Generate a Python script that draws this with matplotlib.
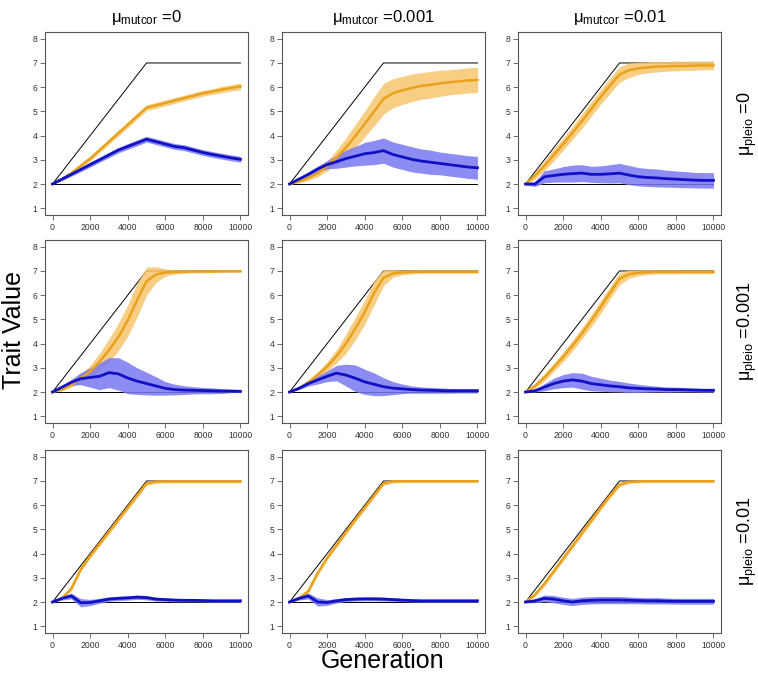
import numpy as np
import matplotlib
matplotlib.use("Agg")
import matplotlib.pyplot as plt

plt.rcParams['font.family'] = ['Liberation Sans', 'DejaVu Sans']
plt.rcParams['mathtext.fontset'] = 'custom'
plt.rcParams['mathtext.rm'] = 'Liberation Sans'
plt.rcParams['mathtext.it'] = 'Liberation Sans'

# generations sampled along each run
gen = [0, 500, 1000, 1500, 2000, 2500, 3000, 3500, 4000, 4500, 5000,
       5500, 6000, 6500, 7000, 7500, 8000, 8500, 9000, 9500, 10000]

# optimum paths
opt_gen = [0, 5000, 10000]
opt1 = [2, 7, 7]
opt2 = [2, 2, 2]

mutcor = ['0', '0.001', '0.01']
pleio = ['0', '0.001', '0.01']

# trait 1 (orange) mean and band half-width, panels row by row
orange_mean = [
    [2.0, 2.2, 2.45, 2.75, 3.05, 3.4, 3.75, 4.1, 4.45, 4.8, 5.15, 5.25, 5.35, 5.45, 5.55, 5.65, 5.75, 5.82, 5.9, 5.97, 6.03],
    [2.0, 2.1, 2.25, 2.45, 2.75, 3.1, 3.5, 3.98, 4.48, 5.0, 5.52, 5.75, 5.87, 5.97, 6.05, 6.1, 6.16, 6.2, 6.24, 6.28, 6.3],
    [2.0, 2.35, 2.75, 3.2, 3.65, 4.12, 4.6, 5.1, 5.6, 6.07, 6.52, 6.7, 6.78, 6.82, 6.85, 6.86, 6.88, 6.88, 6.89, 6.9, 6.9],
    [2.0, 2.1, 2.3, 2.57, 2.85, 3.25, 3.72, 4.27, 4.95, 5.8, 6.58, 6.85, 6.94, 6.96, 6.97, 6.98, 6.98, 6.98, 6.99, 6.99, 6.99],
    [2.0, 2.15, 2.4, 2.7, 3.05, 3.48, 4.0, 4.62, 5.3, 6.1, 6.72, 6.9, 6.94, 6.96, 6.97, 6.97, 6.97, 6.97, 6.97, 6.97, 6.97],
    [2.0, 2.25, 2.6, 3.02, 3.45, 3.92, 4.42, 4.95, 5.52, 6.1, 6.68, 6.87, 6.92, 6.95, 6.96, 6.96, 6.96, 6.96, 6.96, 6.96, 6.96],
    [2.0, 2.15, 2.55, 3.35, 3.9, 4.4, 4.9, 5.4, 5.9, 6.4, 6.9, 6.97, 6.98, 6.98, 6.98, 6.98, 6.98, 6.98, 6.98, 6.98, 6.98],
    [2.0, 2.15, 2.45, 3.2, 3.82, 4.35, 4.88, 5.4, 5.9, 6.4, 6.9, 6.98, 6.99, 6.99, 6.99, 6.99, 6.99, 6.99, 6.99, 6.99, 6.99],
    [2.0, 2.3, 2.75, 3.27, 3.8, 4.32, 4.85, 5.37, 5.9, 6.4, 6.85, 6.96, 6.98, 6.99, 6.99, 6.99, 6.99, 6.99, 6.99, 6.99, 6.99],
]
orange_spread = [
    [0.0, 0.06, 0.08, 0.09, 0.1, 0.1, 0.11, 0.11, 0.12, 0.12, 0.12, 0.12, 0.12, 0.12, 0.12, 0.12, 0.12, 0.12, 0.13, 0.13, 0.14],
    [0.0, 0.05, 0.1, 0.15, 0.2, 0.3, 0.4, 0.48, 0.53, 0.6, 0.63, 0.6, 0.58, 0.57, 0.55, 0.55, 0.54, 0.52, 0.52, 0.52, 0.52],
    [0.0, 0.15, 0.2, 0.25, 0.25, 0.27, 0.3, 0.3, 0.3, 0.32, 0.32, 0.3, 0.25, 0.23, 0.22, 0.2, 0.2, 0.19, 0.19, 0.18, 0.18],
    [0.0, 0.05, 0.1, 0.17, 0.25, 0.35, 0.47, 0.57, 0.65, 0.7, 0.58, 0.33, 0.15, 0.09, 0.07, 0.06, 0.06, 0.05, 0.05, 0.04, 0.04],
    [0.0, 0.05, 0.1, 0.15, 0.2, 0.27, 0.4, 0.47, 0.5, 0.5, 0.33, 0.15, 0.1, 0.08, 0.07, 0.07, 0.07, 0.07, 0.07, 0.07, 0.07],
    [0.0, 0.1, 0.15, 0.17, 0.2, 0.22, 0.23, 0.25, 0.27, 0.25, 0.25, 0.17, 0.12, 0.1, 0.08, 0.08, 0.08, 0.07, 0.07, 0.07, 0.07],
    [0.0, 0.05, 0.08, 0.1, 0.09, 0.09, 0.09, 0.09, 0.09, 0.09, 0.08, 0.06, 0.05, 0.05, 0.05, 0.05, 0.05, 0.05, 0.05, 0.05, 0.05],
    [0.0, 0.05, 0.08, 0.1, 0.09, 0.09, 0.09, 0.09, 0.09, 0.09, 0.08, 0.06, 0.05, 0.05, 0.05, 0.05, 0.05, 0.05, 0.05, 0.05, 0.05],
    [0.0, 0.07, 0.1, 0.11, 0.11, 0.11, 0.11, 0.11, 0.11, 0.1, 0.09, 0.06, 0.05, 0.05, 0.05, 0.05, 0.05, 0.05, 0.05, 0.05, 0.05],
]

# trait 2 (blue) mean and band half-width
blue_mean = [
    [2.0, 2.2, 2.4, 2.6, 2.8, 3.0, 3.2, 3.4, 3.55, 3.7, 3.85, 3.75, 3.65, 3.55, 3.5, 3.4, 3.3, 3.22, 3.15, 3.08, 3.02],
    [2.0, 2.2, 2.4, 2.62, 2.8, 2.92, 3.05, 3.15, 3.25, 3.3, 3.38, 3.22, 3.12, 3.02, 2.95, 2.9, 2.85, 2.8, 2.75, 2.7, 2.67],
    [2.0, 2.0, 2.3, 2.35, 2.4, 2.43, 2.45, 2.4, 2.4, 2.42, 2.45, 2.37, 2.3, 2.27, 2.25, 2.22, 2.2, 2.18, 2.16, 2.15, 2.15],
    [2.0, 2.2, 2.4, 2.55, 2.6, 2.65, 2.8, 2.75, 2.58, 2.45, 2.35, 2.25, 2.15, 2.1, 2.08, 2.07, 2.06, 2.05, 2.04, 2.04, 2.03],
    [2.0, 2.15, 2.35, 2.5, 2.65, 2.78, 2.7, 2.57, 2.42, 2.32, 2.22, 2.16, 2.13, 2.1, 2.08, 2.07, 2.06, 2.05, 2.05, 2.05, 2.05],
    [2.0, 2.05, 2.2, 2.35, 2.45, 2.5, 2.45, 2.35, 2.3, 2.25, 2.22, 2.17, 2.15, 2.13, 2.12, 2.1, 2.1, 2.09, 2.08, 2.07, 2.07],
    [2.0, 2.15, 2.25, 1.97, 1.98, 2.05, 2.12, 2.15, 2.17, 2.2, 2.18, 2.12, 2.1, 2.08, 2.07, 2.07, 2.06, 2.05, 2.05, 2.05, 2.05],
    [2.0, 2.15, 2.25, 2.0, 1.98, 2.05, 2.1, 2.12, 2.13, 2.13, 2.12, 2.1, 2.08, 2.06, 2.05, 2.05, 2.05, 2.05, 2.05, 2.05, 2.05],
    [2.0, 2.05, 2.15, 2.12, 2.05, 2.0, 2.05, 2.07, 2.08, 2.08, 2.08, 2.07, 2.06, 2.05, 2.05, 2.04, 2.03, 2.03, 2.03, 2.03, 2.03],
]
blue_spread = [
    [0.0, 0.06, 0.08, 0.09, 0.1, 0.1, 0.11, 0.11, 0.12, 0.12, 0.12, 0.12, 0.12, 0.12, 0.12, 0.12, 0.12, 0.12, 0.12, 0.12, 0.12],
    [0.0, 0.05, 0.1, 0.12, 0.17, 0.27, 0.35, 0.4, 0.47, 0.5, 0.52, 0.52, 0.52, 0.52, 0.5, 0.5, 0.47, 0.47, 0.47, 0.47, 0.47],
    [0.05, 0.1, 0.25, 0.27, 0.32, 0.35, 0.35, 0.33, 0.35, 0.38, 0.4, 0.4, 0.38, 0.37, 0.37, 0.35, 0.34, 0.33, 0.32, 0.32, 0.32],
    [0.0, 0.05, 0.12, 0.25, 0.4, 0.55, 0.62, 0.67, 0.65, 0.55, 0.47, 0.38, 0.28, 0.22, 0.18, 0.15, 0.13, 0.12, 0.1, 0.07, 0.05],
    [0.0, 0.05, 0.1, 0.17, 0.22, 0.32, 0.45, 0.55, 0.52, 0.47, 0.37, 0.27, 0.2, 0.15, 0.13, 0.12, 0.11, 0.1, 0.09, 0.09, 0.09],
    [0.02, 0.05, 0.15, 0.22, 0.27, 0.3, 0.33, 0.3, 0.27, 0.24, 0.22, 0.2, 0.17, 0.14, 0.12, 0.11, 0.1, 0.09, 0.08, 0.08, 0.08],
    [0.0, 0.07, 0.12, 0.17, 0.13, 0.1, 0.09, 0.09, 0.09, 0.09, 0.09, 0.08, 0.07, 0.07, 0.06, 0.06, 0.06, 0.06, 0.06, 0.06, 0.06],
    [0.0, 0.07, 0.12, 0.17, 0.12, 0.09, 0.08, 0.08, 0.08, 0.08, 0.08, 0.07, 0.06, 0.06, 0.06, 0.06, 0.06, 0.06, 0.06, 0.06, 0.06],
    [0.03, 0.08, 0.14, 0.15, 0.15, 0.15, 0.15, 0.15, 0.15, 0.15, 0.15, 0.14, 0.13, 0.13, 0.13, 0.12, 0.12, 0.12, 0.12, 0.12, 0.12],
]

W, H = 758, 679
col_left = [45, 282, 518]
row_top = [32, 240, 450]
pw, ph = 203, 183

ORANGE_LINE = '#E9A21C'
ORANGE_BAND = '#F7C56F'
BLUE_LINE = '#1010C4'
BLUE_BAND = '#7878F2'
FRAME = '#555555'

fig = plt.figure(figsize=(W / 100, H / 100), dpi=100)
g = np.array(gen)

for r in range(3):
    for c in range(3):
        k = r * 3 + c
        ax = fig.add_axes([col_left[c] / W, 1 - (row_top[r] + ph) / H, pw / W, ph / H])
        ax.plot(opt_gen, opt1, color='black', lw=0.7, zorder=1)
        ax.plot(opt_gen, opt2, color='black', lw=0.7, zorder=1)

        om, osd = np.array(orange_mean[k]), np.array(orange_spread[k])
        bm, bsd = np.array(blue_mean[k]), np.array(blue_spread[k])
        ax.fill_between(g, om - osd, om + osd, color=ORANGE_BAND, alpha=0.85, lw=0, zorder=2)
        ax.plot(g, om, color=ORANGE_LINE, lw=1.8, zorder=3)
        ax.fill_between(g, bm - bsd, bm + bsd, color=BLUE_BAND, alpha=0.85, lw=0, zorder=2)
        ax.plot(g, bm, color=BLUE_LINE, lw=2.0, zorder=3)

        ax.set_xlim(-400, 10400)
        ax.set_ylim(0.72, 8.28)
        ax.set_xticks([0, 2000, 4000, 6000, 8000, 10000])
        ax.set_yticks([1, 2, 3, 4, 5, 6, 7, 8])
        ax.tick_params(labelsize=6.2, length=3.5, width=0.6, color=FRAME,
                       labelcolor='#333333', pad=2)
        for sp in ax.spines.values():
            sp.set_color(FRAME)
            sp.set_linewidth(0.8)

        if r == 0:
            ax.text(0.5, 1.025, r'$\mathregular{\mu_{mutcor}}$ =' + mutcor[c],
                    transform=ax.transAxes, ha='center', va='bottom', fontsize=12)
        if c == 2:
            ax.text(1.13, 0.5, r'$\mathregular{\mu_{pleio}}$ =' + pleio[r],
                    transform=ax.transAxes, ha='center', va='center',
                    rotation=90, fontsize=13)

fig.text(14 / W, 1 - 330 / H, 'Trait Value', rotation=90, ha='center', va='center', fontsize=18)
fig.text(383 / W, 1 - 661 / H, 'Generation', ha='center', va='center', fontsize=18)

fig.savefig('out.png', dpi=100)
